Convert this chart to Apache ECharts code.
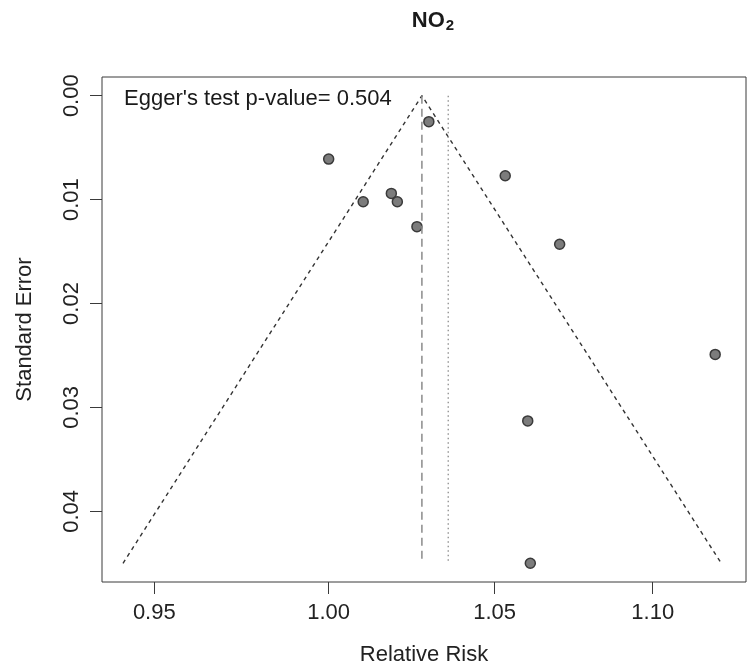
<!DOCTYPE html>
<html>
<head>
<meta charset="utf-8">
<script src="https://cdn.jsdelivr.net/npm/echarts@6/dist/echarts.min.js"></script>
<style>
html,body{margin:0;padding:0;background:#fff;}
#chart{width:747px;height:666px;}
</style>
</head>
<body>
<div id="chart"></div>
<script>
// ---- data ----
const studyRR = [1.0299, 1.0000, 1.0102, 1.0186, 1.0204, 1.0263, 1.0533, 1.0703, 1.1204, 1.0603, 1.0611];
const studySE = [0.0025, 0.0061, 0.0102, 0.0094, 0.0102, 0.0126, 0.0077, 0.0143, 0.0249, 0.0313, 0.0450];
const funnelRR = [0.9413, 1.0278, 1.1224];
const funnelSE = [0.045, 0.000, 0.045];
const pooledRR = [1.0278, 1.0278];   // dashed vertical
const dottedRR = [1.0358, 1.0358];   // dotted vertical
const refLineSE = [0.000, 0.045];
const xTickRR = [0.95, 1.00, 1.05, 1.10];
const yTickSE = [0.00, 0.01, 0.02, 0.03, 0.04];
const xRangeRR = [0.9355, 1.1306];
const yRangeSE = [-0.0018, 0.0468];
const titleMain = 'NO';
const titleSub = '2';
const eggerText = "Egger's test p-value= 0.504";
const xName = 'Relative Risk';
const yName = 'Standard Error';

const FONT = '"Liberation Sans", Arial, Helvetica, sans-serif';
const pairs = (xs, ys) => xs.map((v, i) => [Math.log(v), ys[i]]);

const chart = echarts.init(document.getElementById('chart'), null, {renderer: 'canvas'});
chart.setOption({
  animation: false,
  backgroundColor: '#ffffff',
  textStyle: {fontFamily: FONT},
  title: {
    text: titleMain + '{sub|' + titleSub + '}',
    left: 428, top: 4, textAlign: 'center',
    textStyle: {
      fontFamily: FONT, fontSize: 22, fontWeight: 'bold', color: '#1a1a1a',
      rich: {sub: {fontFamily: FONT, fontSize: 15, fontWeight: 'bold', color: '#1a1a1a', padding: [9, 0, 0, 1]}}
    }
  },
  grid: {
    left: 102, right: 1, top: 77, bottom: 84,
    outerBoundsMode: 'none', containLabel: false,
    show: true, borderColor: '#3a3a3a', borderWidth: 1, backgroundColor: 'transparent'
  },
  xAxis: {
    type: 'value', position: 'bottom',
    min: Math.log(xRangeRR[0]), max: Math.log(xRangeRR[1]),
    name: xName, nameLocation: 'middle', nameGap: 62,
    nameTextStyle: {fontFamily: FONT, fontSize: 22, color: '#222'},
    axisLine: {show: false, onZero: false},
    splitLine: {show: false},
    axisTick: {show: true, length: 12, customValues: xTickRR.map(Math.log), lineStyle: {color: '#3a3a3a'}},
    axisLabel: {
      customValues: xTickRR.map(Math.log),
      margin: 20, fontFamily: FONT, fontSize: 22, color: '#222',
      formatter: v => Math.exp(v).toFixed(2)
    }
  },
  yAxis: {
    type: 'value', inverse: true, position: 'left',
    min: yRangeSE[0], max: yRangeSE[1],
    name: yName, nameLocation: 'middle', nameGap: 66, nameRotate: 90,
    nameTextStyle: {fontFamily: FONT, fontSize: 22, color: '#222'},
    axisLine: {show: false, onZero: false},
    splitLine: {show: false},
    axisTick: {show: true, length: 12, customValues: yTickSE, lineStyle: {color: '#3a3a3a'}},
    axisLabel: {
      customValues: yTickSE, rotate: 90,
      margin: 19, fontFamily: FONT, fontSize: 22, color: '#222',
      formatter: v => v.toFixed(2)
    }
  },
  graphic: [{
    type: 'text', left: 124, top: 88,
    style: {text: eggerText, font: '22px ' + FONT, fill: '#1a1a1a'}
  }],
  series: [
    {
      type: 'line', data: pairs(funnelRR, funnelSE), showSymbol: false, silent: true,
      lineStyle: {color: '#333', width: 1.4, type: [4, 4]}
    },
    {
      type: 'line', data: pairs(pooledRR, refLineSE), showSymbol: false, silent: true,
      lineStyle: {color: '#8a8a8a', width: 1.5, type: [8, 5]}
    },
    {
      type: 'line', data: pairs(dottedRR, refLineSE), showSymbol: false, silent: true,
      lineStyle: {color: '#9a9a9a', width: 1.5, type: [1.5, 3]}
    },
    {
      type: 'scatter', data: pairs(studyRR, studySE), symbol: 'circle', symbolSize: 10,
      itemStyle: {color: '#7c7c7c', borderColor: '#3a3a3a', borderWidth: 1.5, opacity: 1}
    }
  ]
});
</script>
</body>
</html>
